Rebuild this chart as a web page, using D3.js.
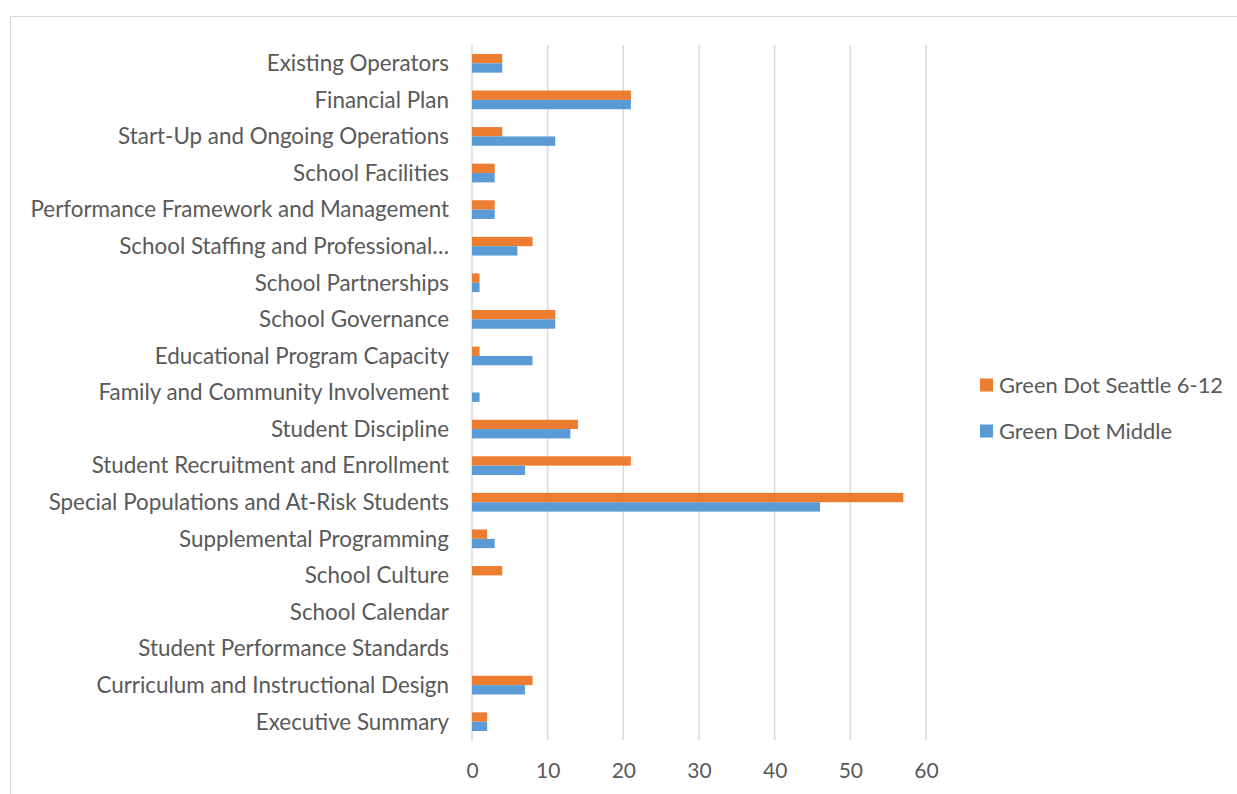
<!DOCTYPE html>
<html>
<head>
<meta charset="utf-8">
<script src="https://cdn.jsdelivr.net/npm/d3@7"></script>
<style>
  html, body { margin: 0; padding: 0; background: #fff; }
  svg { display: block; }
  text { font-family: Lato, "Open Sans", sans-serif; fill: #595959; }
</style>
</head>
<body>
<svg id="chart" width="1237" height="794"></svg>
<script>
// Review categories, listed top to bottom
const categories = [
  "Existing Operators",
  "Financial Plan",
  "Start-Up and Ongoing Operations",
  "School Facilities",
  "Performance Framework and Management",
  "School Staffing and Professional…",
  "School Partnerships",
  "School Governance",
  "Educational Program Capacity",
  "Family and Community Involvement",
  "Student Discipline",
  "Student Recruitment and Enrollment",
  "Special Populations and At-Risk Students",
  "Supplemental Programming",
  "School Culture",
  "School Calendar",
  "Student Performance Standards",
  "Curriculum and Instructional Design",
  "Executive Summary"
];

const seriesNames = ["Green Dot Seattle 6-12", "Green Dot Middle"];
const seattleValues = [4, 21, 4, 3, 3, 8, 1, 11, 1, 0, 14, 21, 57, 2, 4, 0, 0, 8, 2];
const middleValues  = [4, 21, 11, 3, 3, 6, 1, 11, 8, 1, 13, 7, 46, 3, 0, 0, 0, 7, 2];
const seriesColors = ["#ED7D31", "#5B9BD5"];
const xTicks = [0, 10, 20, 30, 40, 50, 60];

const svg = d3.select("#chart");

// Outer chart frame
svg.append("path")
  .attr("d", "M10.5,794 L10.5,16.5 L1237,16.5")
  .attr("fill", "none")
  .attr("stroke", "#d9d9d9")
  .attr("stroke-width", 1);

const plot = { left: 472, right: 926, top: 45, bottom: 740 };

const x = d3.scaleLinear().domain([0, 60]).range([plot.left, plot.right]);
const y = d3.scaleBand().domain(categories).range([plot.top, plot.bottom])
  .paddingInner(0.488).paddingOuter(0.244);
const ySub = d3.scaleBand().domain([0, 1]).range([0, y.bandwidth()]);

// Vertical gridlines (including the baseline at zero)
svg.append("g")
  .selectAll("line")
  .data(xTicks)
  .join("line")
  .attr("x1", d => x(d)).attr("x2", d => x(d))
  .attr("y1", plot.top).attr("y2", plot.bottom)
  .attr("stroke", "#d9d9d9")
  .attr("stroke-width", 1.5);

// Bars
const series = [seattleValues, middleValues];
series.forEach((vals, si) => {
  svg.append("g")
    .selectAll("rect")
    .data(categories.map((c, i) => ({ c, v: vals[i] })).filter(d => d.v > 0))
    .join("rect")
    .attr("x", x(0))
    .attr("y", d => y(d.c) + ySub(si))
    .attr("width", d => x(d.v) - x(0))
    .attr("height", ySub.bandwidth())
    .attr("fill", seriesColors[si]);
});

// Category labels
svg.append("g")
  .selectAll("text")
  .data(categories)
  .join("text")
  .attr("x", 449)
  .attr("y", d => y(d) + y.bandwidth() / 2)
  .attr("dy", "0.35em")
  .attr("text-anchor", "end")
  .attr("font-size", 22.4)
  .text(d => d);

// Value axis labels
const xAxis = d3.axisBottom(x).tickValues(xTicks).tickSize(0).tickPadding(0);
const gx = svg.append("g").attr("transform", `translate(0, 771)`).call(xAxis);
gx.select(".domain").remove();
gx.selectAll("text")
  .attr("font-size", 21)
  .attr("dy", "0.35em")
  .attr("y", 0)
  .style("font-family", "Lato, 'Open Sans', sans-serif")
  .style("fill", "#595959");

// Legend
const legend = svg.append("g");
seriesNames.forEach((name, i) => {
  const ly = 385 + i * 46;
  legend.append("rect")
    .attr("x", 980).attr("y", ly - 6.5)
    .attr("width", 13).attr("height", 13)
    .attr("fill", seriesColors[i]);
  legend.append("text")
    .attr("x", 999).attr("y", ly)
    .attr("dy", "0.35em")
    .attr("font-size", 21.9)
    .text(name);
});
</script>
</body>
</html>
